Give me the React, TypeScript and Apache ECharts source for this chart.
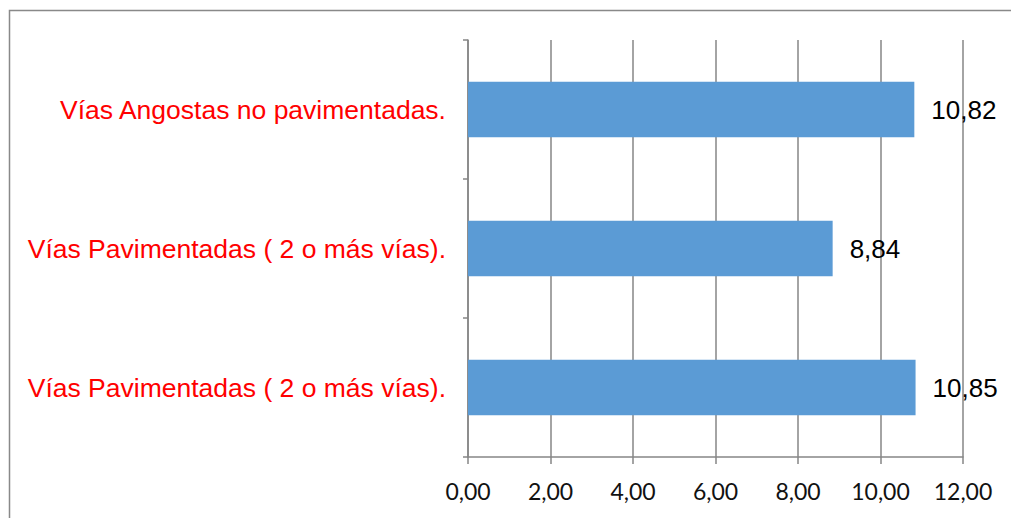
import React, { useEffect, useRef } from "react";
import * as echarts from "echarts";

const categories = [
  "Vías Angostas no pavimentadas.",
  "Vías Pavimentadas ( 2 o más vías).",
  "Vías Pavimentadas ( 2 o más vías).",
];
const values = [10.82, 8.84, 10.85];

const fmt = (v: number) => v.toFixed(2).replace(".", ",");

export default function App() {
  const ref = useRef<HTMLDivElement>(null);
  useEffect(() => {
    if (!ref.current) return;
    const chart = echarts.init(ref.current, null, { renderer: "svg" });
    chart.setOption({
      animation: false,
      backgroundColor: "#ffffff",
      graphic: [
        {
          type: "rect",
          shape: { x: 9.5, y: 10.5, width: 1010, height: 520 },
          style: { fill: "none", stroke: "#898989", lineWidth: 1.5 },
          silent: true,
        },
      ],
      grid: { left: 468, right: 48, top: 40, bottom: 61, containLabel: false },
      xAxis: {
        type: "value",
        min: 0,
        max: 12,
        interval: 2,
        axisLine: { show: true, lineStyle: { color: "#868686", width: 1.5 } },
        axisTick: { show: true, length: 7, lineStyle: { color: "#868686", width: 1.5 } },
        splitLine: { show: true, lineStyle: { color: "#868686", width: 1.5 } },
        axisLabel: {
          margin: 22,
          fontSize: 23,
          color: "#111",
          fontFamily: "Lato",
          formatter: (v: number) => fmt(v),
        },
      },
      yAxis: {
        type: "category",
        inverse: true,
        data: categories,
        axisLine: { show: true, lineStyle: { color: "#868686", width: 1.5 } },
        axisTick: { show: true, length: 5, lineStyle: { color: "#868686", width: 1.5 } },
        axisLabel: {
          margin: 22,
          fontSize: 26.5,
          color: "#ff0000",
          fontFamily: "Liberation Sans",
        },
      },
      series: [
        {
          type: "bar",
          data: values,
          barWidth: "40%",
          itemStyle: { color: "#5b9bd5" },
          label: {
            show: true,
            position: "right",
            distance: 17,
            fontSize: 26,
            color: "#000",
            fontFamily: "Liberation Sans",
            formatter: (p: any) => fmt(p.value),
          },
        },
      ],
    });
    return () => chart.dispose();
  }, []);
  return (
    <div
      ref={ref}
      style={{ position: "fixed", left: 0, top: 0, width: 1011, height: 518 }}
    />
  );
}
